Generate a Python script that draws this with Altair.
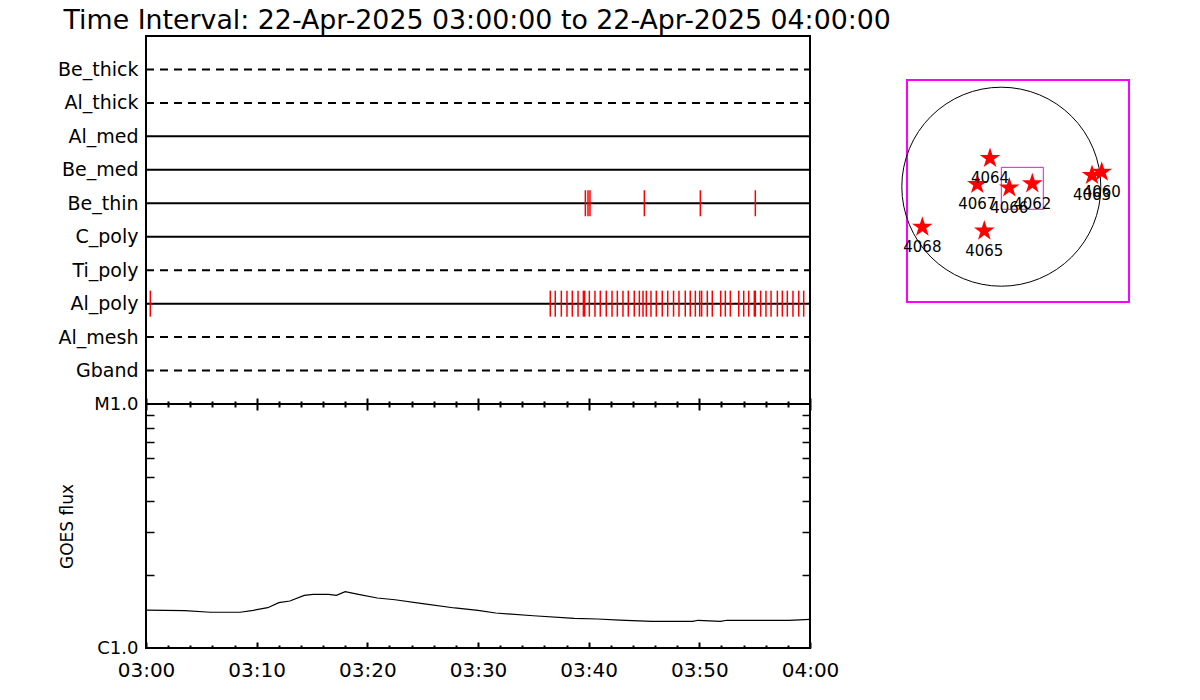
import altair as alt
import pandas as pd

# ---------------- data ----------------
title_text = "Time Interval: 22-Apr-2025 03:00:00 to 22-Apr-2025 04:00:00"

rows = ["Be_thick", "Al_thick", "Al_med", "Be_med", "Be_thin",
        "C_poly", "Ti_poly", "Al_poly", "Al_mesh", "Gband"]
row_styles = ["dashed", "dashed", "solid", "solid", "solid",
              "solid", "dashed", "solid", "dashed", "dashed"]

# minutes after 03:00
be_thin_minutes = [39.70, 39.94, 40.12, 45.03, 50.09, 55.06]
al_poly_minutes = [0.39,
                   36.53, 36.98, 37.53, 38.04, 38.52, 39.04, 39.52, 39.64, 40.06, 40.57,
                   41.05, 41.59, 42.11, 42.59, 43.10, 43.58, 44.12, 44.58, 44.91, 45.21,
                   45.63, 46.11, 46.65, 47.14, 47.67, 48.16, 48.73, 49.18, 49.64, 50.03,
                   50.21, 50.72, 51.17, 51.93, 52.35, 52.80, 53.56, 54.01, 54.46, 54.97,
                   55.06, 55.54, 56.02, 56.48, 57.05, 57.50, 57.95, 58.46, 58.98, 59.43]

goes_minutes = [0, 3.5, 5.8, 8.5, 9.7, 11, 12, 13, 14.3, 15.1, 16.5, 17.2, 18, 19.2,
                20.9, 22.5, 25, 27.9, 30, 31.6, 35, 38.7, 40.8, 42.8, 45.7, 49.4,
                49.9, 51.9, 52.5, 58.1, 60]
goes_flux = [1.430e-6, 1.422e-6, 1.401e-6, 1.401e-6, 1.427e-6, 1.463e-6, 1.534e-6,
             1.558e-6, 1.644e-6, 1.660e-6, 1.660e-6, 1.644e-6, 1.701e-6, 1.660e-6,
             1.603e-6, 1.577e-6, 1.519e-6, 1.459e-6, 1.427e-6, 1.391e-6, 1.356e-6,
             1.323e-6, 1.315e-6, 1.302e-6, 1.286e-6, 1.286e-6, 1.299e-6, 1.286e-6,
             1.299e-6, 1.299e-6, 1.311e-6]

# map (arcsec)
regions = ["4064", "4067", "4066", "4062", "4068", "4065", "4063", "4060"]
reg_x = [-109, -232, 77, 299, -762, -164, 875, 969]
reg_y = [274, 23, -10, 29, -389, -427, 110, 142]
fov_x = [-910, 1232]
fov_y = [-1113, 1030]
box_x = [0, 405]
box_y = [-218, 187]
disk_r = 960

# ---------------- layout constants ----------------
W = 664
H_TOP = 368
H_BOT = 244
MAP_W = 222
MAP_H = 266
map_x_dom = [fov_x[0], fov_x[1]]
map_y_dom = [fov_y[0], fov_y[1] + (fov_y[1] - fov_y[0]) * (MAP_H - MAP_W) / MAP_W]
FONT = "DejaVu Sans"

minor_vals = list(range(0, 61, 2))
major_vals = list(range(0, 61, 10))
tick_cond = {"condition": {"test": "datum.value % 10 === 0", "value": 6}, "value": 3}

xs = alt.Scale(domain=[0, 60], nice=False, zero=False)


def tick_axis(orient, offset, values, size, width):
    return alt.Axis(orient=orient, offset=offset, values=values, labels=False,
                    domain=False, grid=False, title=None, tickSize=size,
                    tickWidth=width, tickColor="black", minExtent=0, maxExtent=0)


# ---------------- top panel ----------------
rows_df = pd.DataFrame({"row": rows, "style": row_styles,
                        "start": [0] * len(rows), "end": [60] * len(rows)})
ticks_df = pd.DataFrame({
    "row": ["Be_thin"] * len(be_thin_minutes) + ["Al_poly"] * len(al_poly_minutes),
    "minute": be_thin_minutes + al_poly_minutes,
})

x_top_axis = tick_axis("top", -H_TOP, minor_vals, tick_cond, 2)
y_row = alt.Y("row:N", scale=alt.Scale(domain=rows, type="point", padding=1),
              axis=alt.Axis(title=None, ticks=False, domain=False, grid=False,
                            labelFontSize=19, labelPadding=8, labelColor="black",
                            labelFont=FONT))

base_rows = alt.Chart(rows_df)
solid = base_rows.transform_filter(alt.datum.style == "solid").mark_rule(
    color="black", strokeWidth=2).encode(
    x=alt.X("start:Q", scale=xs, axis=x_top_axis), x2="end:Q", y=y_row)
dashed = base_rows.transform_filter(alt.datum.style == "dashed").mark_rule(
    color="black", strokeWidth=2, strokeDash=[8, 6]).encode(
    x=alt.X("start:Q", scale=xs, axis=x_top_axis), x2="end:Q", y=y_row)
red_ticks = alt.Chart(ticks_df).mark_tick(color="red", thickness=1.5, size=26,
                                          opacity=1).encode(
    x=alt.X("minute:Q", scale=xs, axis=x_top_axis), y=y_row)

top = alt.layer(solid, dashed, red_ticks).properties(width=W, height=H_TOP)

# ---------------- bottom panel ----------------
goes_df = pd.DataFrame({"minute": goes_minutes, "flux": goes_flux})
ys = alt.Scale(type="log", domain=[1e-6, 1e-5], nice=False)
y_minor = [2e-6, 3e-6, 4e-6, 5e-6, 6e-6, 7e-6, 8e-6, 9e-6]

line_main = alt.Chart(goes_df).mark_line(color="black", strokeWidth=1.2).encode(
    x=alt.X("minute:Q", scale=xs,
            axis=alt.Axis(orient="bottom", values=major_vals,
                          labelExpr="datum.value == 60 ? '04:00' : '03:' + (datum.value < 10 ? '0' : '') + datum.value",
                          ticks=False, domain=False, grid=False, labelFlush=False,
                          labelOverlap=False, labelFontSize=20, labelPadding=12,
                          labelColor="black", labelFont=FONT, title=None)),
    y=alt.Y("flux:Q", scale=ys,
            axis=alt.Axis(orient="left", values=[1e-6, 1e-5],
                          labelExpr="datum.value < 3e-6 ? 'C1.0' : 'M1.0'",
                          ticks=False, domain=False, grid=False, labelFontSize=18,
                          labelPadding=8, labelColor="black", labelFont=FONT,
                          title="GOES flux", titleFontSize=17, titleFontWeight="normal",
                          titleFont=FONT, titleColor="black", titlePadding=17)),
)
ticks_a = alt.Chart(goes_df).mark_line(strokeOpacity=0).encode(
    x=alt.X("minute:Q", scale=xs, axis=tick_axis("top", -H_BOT, minor_vals, tick_cond, 2)),
    y=alt.Y("flux:Q", scale=ys, axis=tick_axis("right", -W, y_minor, 8, 1.5)),
)
ticks_b = alt.Chart(goes_df).mark_line(strokeOpacity=0).encode(
    x=alt.X("minute:Q", scale=xs, axis=tick_axis("bottom", -H_BOT, minor_vals, tick_cond, 2)),
    y=alt.Y("flux:Q", scale=ys, axis=tick_axis("left", -W, y_minor, 8, 1.5)),
)
bottom = alt.layer(line_main, ticks_a, ticks_b).resolve_axis(
    x="independent", y="independent").properties(width=W, height=H_BOT)

left = alt.vconcat(top, bottom, spacing=0, bounds="flush")

# ---------------- map ----------------
mx = alt.Scale(domain=map_x_dom, nice=False, zero=False)
my = alt.Scale(domain=map_y_dom, nice=False, zero=False)
arcsec_per_px = (map_x_dom[1] - map_x_dom[0]) / MAP_W
disk_size = (2 * disk_r / arcsec_per_px) ** 2

STAR = ("M0,-1 L0.2245,-0.309 L0.951,-0.309 L0.363,0.118 L0.588,0.809 L0,0.382 "
        "L-0.588,0.809 L-0.363,0.118 L-0.951,-0.309 L-0.2245,-0.309 Z")

fov = alt.Chart(pd.DataFrame({"x1": [fov_x[0]], "x2": [fov_x[1]],
                              "y1": [fov_y[0]], "y2": [fov_y[1]]})).mark_rect(
    fillOpacity=0, stroke="#ff00ff", strokeWidth=2).encode(
    x=alt.X("x1:Q", scale=mx, axis=None), x2="x2:Q",
    y=alt.Y("y1:Q", scale=my, axis=None), y2="y2:Q")
box = alt.Chart(pd.DataFrame({"x1": [box_x[0]], "x2": [box_x[1]],
                              "y1": [box_y[0]], "y2": [box_y[1]]})).mark_rect(
    fillOpacity=0, stroke="#ff00ff", strokeWidth=1).encode(
    x=alt.X("x1:Q", scale=mx, axis=None), x2="x2:Q",
    y=alt.Y("y1:Q", scale=my, axis=None), y2="y2:Q")
disk = alt.Chart(pd.DataFrame({"x": [0], "y": [0]})).mark_point(
    shape="circle", size=disk_size, filled=False, color="black", strokeWidth=1,
    opacity=1).encode(
    x=alt.X("x:Q", scale=mx, axis=None), y=alt.Y("y:Q", scale=my, axis=None))
map_df = pd.DataFrame({"noaa": regions, "x": reg_x, "y": reg_y})
stars = alt.Chart(map_df).mark_point(shape=STAR, size=470, filled=True, color="red",
                                     opacity=1).encode(
    x=alt.X("x:Q", scale=mx, axis=None), y=alt.Y("y:Q", scale=my, axis=None))
labels = alt.Chart(map_df).mark_text(dy=20, fontSize=15, font=FONT, color="black").encode(
    x=alt.X("x:Q", scale=mx, axis=None), y=alt.Y("y:Q", scale=my, axis=None),
    text="noaa:N")

map_chart = alt.layer(fov, box, disk, stars, labels).properties(
    width=MAP_W, height=MAP_H, view=alt.ViewBackground(stroke="transparent"))

chart = alt.hconcat(left, map_chart, spacing=58).properties(
    title=alt.TitleParams(text=title_text, anchor="start", fontSize=26.8,
                          fontWeight="normal", font=FONT, color="black", dx=7, offset=0),
    padding={"left": 48, "top": 0, "right": 5, "bottom": 5},
).configure_view(stroke="black", strokeWidth=2).configure_axis(
    labelFont=FONT, titleFont=FONT)

chart.save("out.html", embed_options={"renderer": "svg", "actions": False})
